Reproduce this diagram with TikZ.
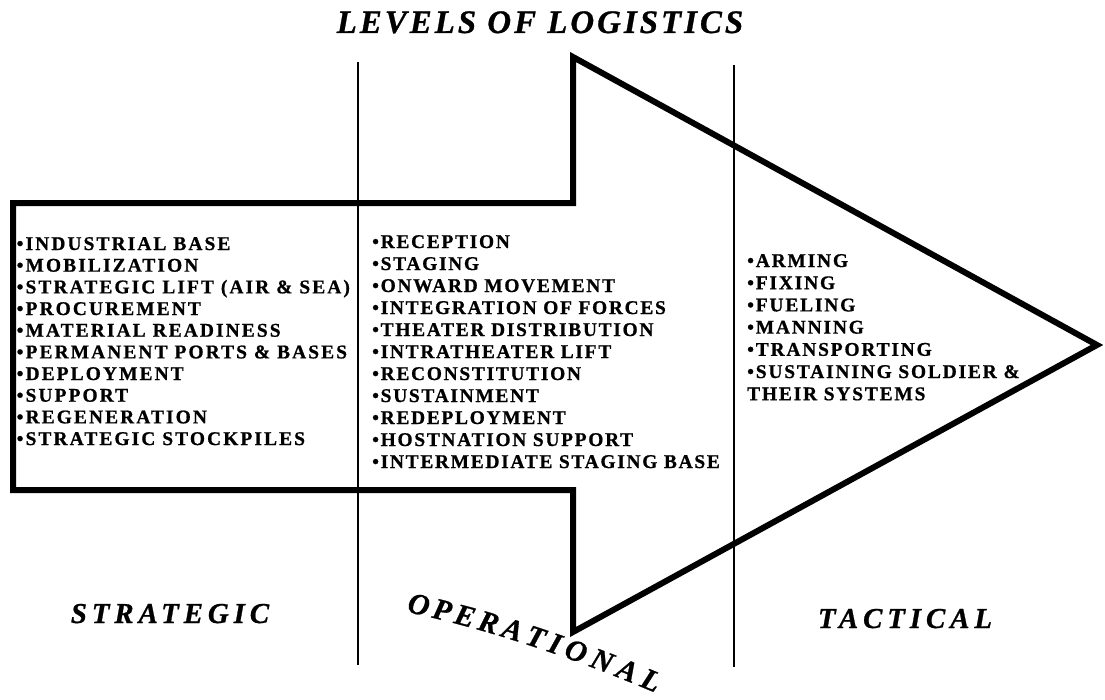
\documentclass[tikz,border=0pt]{standalone}
\usepackage{fontspec}
\newfontfamily\listfontL{Liberation Serif Bold}[LetterSpace=10.8,FakeBold=0.8]
\newfontfamily\listfontM{Liberation Serif Bold}[LetterSpace=8.8,FakeBold=0.8]
\newfontfamily\listfontR{Liberation Serif Bold}[LetterSpace=9.4,FakeBold=0.8]
\newfontfamily\headfont{Liberation Serif Bold Italic}[LetterSpace=9.2,FakeBold=0.8]
\newfontfamily\labfont{Liberation Serif Bold Italic}[LetterSpace=17,FakeBold=0.8]
\newfontfamily\opfont{Liberation Serif Bold Italic}[FakeBold=0.8]
\begin{document}
\begin{tikzpicture}[x=1bp,y=-1bp,
  outline/.style={line width=6bp, line join=miter, miter limit=10},
  divider/.style={line width=2.2bp},
  item/.style={anchor=base west, inner sep=0pt},
  itemL/.style={item, font=\listfontL\fontsize{19.5}{22}\selectfont},
  itemM/.style={item, font=\listfontM\fontsize{19.5}{22}\selectfont},
  itemR/.style={item, font=\listfontR\fontsize{19.5}{22}\selectfont},
  title/.style={anchor=base, inner sep=0pt, font=\headfont\fontsize{33}{34}\selectfont},
  level/.style={anchor=base, inner sep=0pt, font=\labfont\fontsize{29}{30}\selectfont},
  oplet/.style={anchor=base, inner sep=0pt, sloped, font=\opfont\fontsize{30}{31}\selectfont}]
\useasboundingbox (0,0) rectangle (1105,700);
\fill[white] (0,0) rectangle (1105,700);
% dividers
\draw[divider] (358,62) -- (358,665);
\draw[divider] (734,65) -- (734,667);
% arrow outline
\draw[outline] (13,203) -- (573,203) -- (573,57) -- (1097,345) -- (573,632) -- (573,490) -- (13,490) -- cycle;
% title
\node[title] (title) at (540,33) {LEVELS OF LOGISTICS};
% strategic list
\foreach \t [count=\i] in {INDUSTRIAL BASE, MOBILIZATION, {STRATEGIC LIFT (AIR \& SEA)}, PROCUREMENT, MATERIAL READINESS, {PERMANENT PORTS \& BASES}, DEPLOYMENT, SUPPORT, REGENERATION, STRATEGIC STOCKPILES}
  \node[itemL] (s\i) at (16.5,{250+21.67*(\i-1)}) {•\t};
% operational list
\foreach \t [count=\i] in {RECEPTION, STAGING, ONWARD MOVEMENT, INTEGRATION OF FORCES, THEATER DISTRIBUTION, INTRATHEATER LIFT, RECONSTITUTION, SUSTAINMENT, REDEPLOYMENT, HOSTNATION SUPPORT, INTERMEDIATE STAGING BASE}
  \node[itemM] (o\i) at (372,{248+22*(\i-1)}) {•\t};
% tactical list
\foreach \t [count=\i] in {•ARMING, •FIXING, •FUELING, •MANNING, •TRANSPORTING, {•SUSTAINING SOLDIER \&}, THEIR SYSTEMS}
  \node[itemR] (t\i) at (747,{267+22.2*(\i-1)}) {\t};
% level labels
\node[level] (strategic) at (170,623) {STRATEGIC};
\node[level] (tactical) at (905,628) {TACTICAL};
\foreach \l/\p [count=\i] in {O/0.0408, P/0.1363, E/0.2288, R/0.3245, A/0.4201, T/0.5126, I/0.5894, O/0.6724, N/0.7743, A/0.8730, L/0.9655} {
  \path (407,612) .. controls (487,629) and (571,657) .. (656,693) node[oplet,pos=\p] (op\i) {\l};
}
\end{tikzpicture}
\end{document}
